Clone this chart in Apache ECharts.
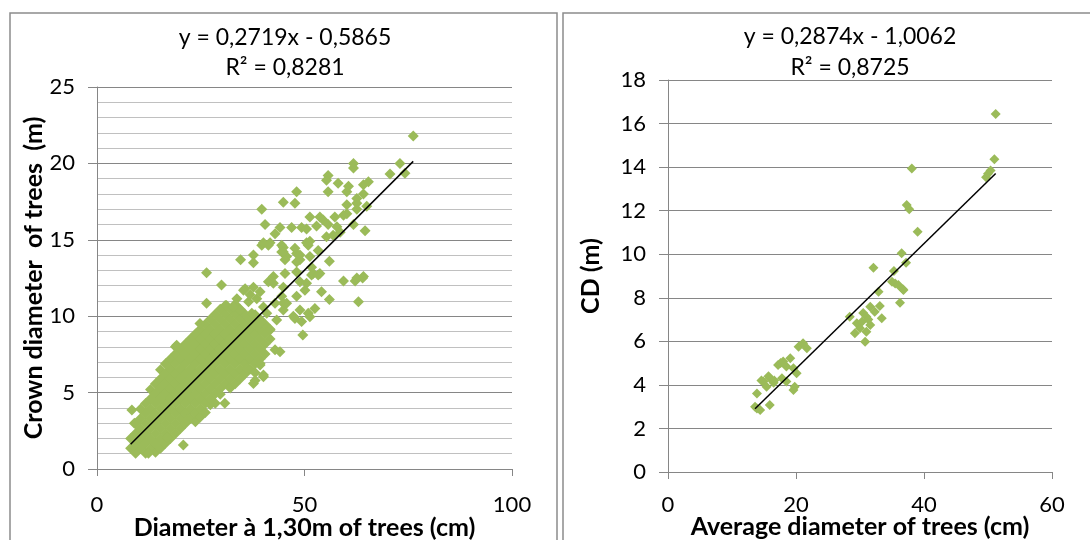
<!DOCTYPE html>
<html>
<head>
<meta charset="utf-8">
<title>Crown diameter vs stem diameter</title>
<script src="https://cdn.jsdelivr.net/npm/echarts@6/dist/echarts.min.js"></script>
<style>
  html, body { margin: 0; padding: 0; background: #ffffff; }
  #chart { width: 1090px; height: 540px; }
</style>
</head>
<body>
<div id="chart"></div>
<script>
// ---- Left panel: individual trees, DBH (cm) vs crown diameter (m) ----
// Dense core of the cloud, listed as [dbh, [crown diameters...]] columns
const dbhCoreColumns = [
  [8.1,  [1.35, 2.0]],
  [9.3,  [1.03, 1.68, 2.33, 2.98]],
  [10.5, [1.36, 2.01, 2.64, 3.3, 3.92]],
  [11.7, [1.03, 1.7, 2.33, 2.97, 3.63, 4.28]],
  [12.9, [1.35, 2.0, 2.66, 3.3, 3.95, 4.6, 5.2]],
  [14.1, [1.1, 1.68, 2.33, 2.98, 3.62, 4.28, 4.93, 5.58]],
  [15.3, [1.35, 2.0, 2.65, 3.3, 3.96, 4.6, 5.25, 5.9, 6.5]],
  [16.5, [1.68, 2.33, 2.98, 3.63, 4.28, 4.93, 5.58, 6.23, 6.88]],
  [17.7, [2.0, 2.65, 3.3, 3.95, 4.6, 5.25, 5.9, 6.55, 7.2]],
  [18.9, [2.33, 2.98, 3.63, 4.28, 4.93, 5.58, 6.23, 6.88, 7.53, 8.0]],
  [20.1, [2.65, 3.3, 3.95, 4.6, 5.25, 5.9, 6.55, 7.2, 7.85]],
  [21.3, [2.98, 3.63, 4.28, 4.93, 5.58, 6.23, 6.88, 7.53, 8.18]],
  [22.5, [3.3, 3.95, 4.6, 5.25, 5.9, 6.55, 7.2, 7.85, 8.5]],
  [23.7, [3.1, 3.63, 4.28, 4.93, 5.58, 6.23, 6.88, 7.53, 8.18, 8.83]],
  [24.9, [3.4, 3.95, 4.6, 5.25, 5.9, 6.55, 7.2, 7.85, 8.5, 9.15]],
  [26.1, [3.7, 4.28, 4.93, 5.58, 6.23, 6.88, 7.53, 8.18, 8.83, 9.48]],
  [27.3, [4.2, 4.6, 5.25, 5.9, 6.55, 7.2, 7.85, 8.5, 9.15, 9.8]],
  [28.5, [4.3, 4.93, 5.58, 6.23, 6.88, 7.53, 8.18, 8.83, 9.48, 10.13]],
  [29.7, [4.9, 5.25, 5.9, 6.55, 7.2, 7.85, 8.5, 9.15, 9.8, 10.45]],
  [30.9, [5.58, 6.23, 6.88, 7.53, 8.18, 8.83, 9.48, 10.13, 10.7]],
  [32.1, [5.3, 5.9, 6.55, 7.2, 7.85, 8.5, 9.15, 9.8, 10.45]],
  [33.3, [5.58, 6.23, 6.88, 7.53, 8.18, 8.83, 9.48, 10.13, 10.78]],
  [34.5, [5.9, 6.55, 7.2, 7.85, 8.5, 9.15, 9.8, 10.45]],
  [35.7, [6.23, 6.88, 7.53, 8.18, 8.83, 9.48, 10.13]],
  [36.9, [6.55, 7.2, 7.85, 8.5, 9.15, 9.8]],
  [38.1, [6.3, 6.88, 7.53, 8.18, 8.83, 9.48, 10.1]],
  [39.3, [7.2, 7.85, 8.5, 9.15, 9.8]],
  [40.5, [7.53, 8.18, 8.83, 9.48]],
  [41.7, [8.5, 9.15]]
];

// Scattered trees around and beyond the core
const dbhScattered = [
  [8.4, 3.86], [8.8, 1.46], [9.0, 3.0], [12.4, 1.03], [16.8, 2.1], [20.8, 1.57], [21.6, 3.2],
  [19.2, 8.1], [24.8, 9.53], [26.4, 10.85], [30.8, 4.3], [36.1, 6.6], [38.1, 5.8], [37.7, 5.6],
  [39.3, 6.8], [40.1, 6.04], [42.9, 7.8], [44.1, 7.68], [47.3, 10.0], [45.7, 10.85], [44.5, 11.3],
  [30.0, 12.05], [35.7, 11.8], [33.7, 11.15], [37.7, 11.9], [36.5, 10.95], [38.5, 11.15],
  [34.5, 10.4], [37.3, 10.2], [40.9, 10.2], [39.3, 9.55], [41.7, 9.1], [39.3, 6.9], [40.1, 6.15],
  [35.3, 11.7], [36.9, 11.4], [39.3, 11.6], [40.1, 10.6], [31.2, 10.7], [32.8, 10.6],
  [43.3, 9.75], [44.9, 10.4], [42.9, 10.85],
  [37.7, 14.0], [37.7, 13.5], [34.6, 13.7], [39.7, 14.65], [41.7, 14.8], [44.5, 14.65],
  [44.5, 14.2], [48.1, 14.1], [50.9, 14.65], [42.5, 12.15], [41.3, 12.25], [44.9, 11.9],
  [44.9, 10.85], [45.3, 12.8], [48.9, 12.25], [50.5, 12.15], [50.1, 11.7], [48.1, 11.3],
  [51.7, 12.7], [53.7, 12.8], [54.1, 11.6], [56.0, 11.1], [56.0, 13.6], [52.5, 10.5],
  [50.9, 10.2], [48.9, 10.4], [47.7, 9.85], [49.3, 9.65], [51.3, 9.97], [49.6, 8.77],
  [59.4, 12.3], [62.2, 12.3], [64.0, 12.5], [63.0, 10.95], [44.9, 14.5], [48.9, 13.7],
  [51.7, 13.2], [48.1, 12.9], [45.7, 13.9],
  [76.2, 21.8], [73.0, 20.0], [70.6, 19.3], [74.2, 19.35], [61.8, 20.0], [61.8, 19.7],
  [55.7, 19.2], [55.3, 18.9], [58.1, 18.7], [55.7, 18.15], [60.2, 18.15], [60.6, 18.5],
  [64.2, 18.6], [65.4, 18.8], [64.2, 18.0], [62.6, 17.7], [62.6, 17.4], [60.2, 17.3],
  [65.0, 17.2], [62.6, 17.0], [60.2, 16.7], [48.1, 18.15], [44.9, 17.45], [47.7, 17.4],
  [39.7, 17.0], [40.5, 16.0], [44.1, 15.8], [42.9, 15.4], [46.9, 15.8], [49.3, 15.8],
  [51.3, 16.5], [53.7, 16.5], [54.5, 16.3], [57.3, 16.5], [59.4, 16.6], [52.9, 15.9],
  [55.7, 16.0], [57.8, 15.85], [61.8, 16.0], [64.6, 15.6], [55.3, 15.2], [56.9, 15.3],
  [58.6, 15.5], [50.5, 15.7], [40.1, 14.8], [41.3, 14.65], [44.9, 14.2], [47.7, 14.45],
  [50.5, 14.8], [51.3, 14.9], [53.3, 14.3], [48.9, 14.0], [51.3, 13.9], [48.1, 13.55],
  [45.3, 13.7], [26.4, 12.85], [42.5, 12.6], [52.1, 12.8], [53.3, 12.7], [62.6, 12.5],
  [64.2, 12.6]
];

const leftSlope = 0.2719;
const leftIntercept = -0.5865;
const leftR2 = 0.8281;
const leftXTicks = [0, 100, 50];   // min, max, step
const leftYTicks = [0, 25, 5];

// ---- Right panel: plot means, average diameter (cm) vs CD (m) ----
const plotMeans = [
  [13.6, 3.0], [13.9, 2.92], [14.4, 2.85], [13.9, 3.61], [14.6, 4.2], [14.9, 4.15], [15.4, 3.92],
  [15.7, 4.4], [15.9, 4.3], [15.9, 3.08], [16.5, 4.1], [16.6, 4.2], [17.2, 4.91], [17.6, 5.0],
  [17.8, 4.3], [18.0, 5.07], [18.5, 4.84], [18.5, 4.15], [19.1, 5.22], [19.6, 4.76], [19.6, 3.77],
  [19.8, 3.92], [20.1, 4.53], [20.4, 5.75], [21.1, 5.91], [21.7, 5.68],
  [28.4, 7.13], [29.2, 6.37], [29.5, 6.83], [30.0, 6.6], [30.3, 6.9], [30.5, 7.3], [30.8, 5.98],
  [31.0, 7.13], [31.0, 6.44], [31.3, 7.0], [31.6, 6.75], [31.6, 7.59], [32.3, 7.36], [32.9, 8.28],
  [33.1, 7.62], [33.4, 7.06], [35.5, 8.66], [36.25, 7.77], [36.8, 8.36],
  [32.1, 9.38], [35.0, 8.74], [35.3, 9.23], [36.0, 8.59], [36.7, 8.39], [36.5, 10.04], [37.2, 9.61],
  [37.3, 12.26], [37.7, 12.06], [38.1, 13.94], [39.0, 11.03],
  [49.7, 13.53], [50.0, 13.7], [50.4, 13.85], [51.0, 14.36], [51.2, 16.44]
];

const rightSlope = 0.2874;
const rightIntercept = -1.0062;
const rightR2 = 0.8725;
const rightXTicks = [0, 60, 20];
const rightYTicks = [0, 18, 2];

// ---- helpers ----
const GREEN = '#9bbb59';
const AXIS_GREY = '#868686';
const FONT = 'Lato, "Open Sans", sans-serif';

const leftPoints = [];
dbhCoreColumns.forEach(([x, ys]) => ys.forEach(y => leftPoints.push([x, y])));
dbhScattered.forEach(p => leftPoints.push(p));

const fmt = v => v.toFixed(4).replace('.', ',');
function equationLines(slope, intercept, r2) {
  const sign = intercept < 0 ? '-' : '+';
  return [
    'y = ' + fmt(slope) + 'x ' + sign + ' ' + fmt(Math.abs(intercept)),
    'R\u00b2 = ' + fmt(r2)
  ];
}
function trendEnds(points, slope, intercept) {
  const xs = points.map(p => p[0]);
  const lo = Math.min(...xs), hi = Math.max(...xs);
  return [[lo, slope * lo + intercept], [hi, slope * hi + intercept]];
}

function valueAxis(gridIndex, ticks, isY, extra) {
  return Object.assign({
    type: 'value',
    gridIndex: gridIndex,
    min: ticks[0], max: ticks[1], interval: ticks[2],
    axisLine: { show: true, onZero: false, lineStyle: { color: AXIS_GREY, width: 1 } },
    axisTick: { show: true, inside: false, length: isY ? 9 : 7, lineStyle: { color: AXIS_GREY, width: 1 } },
    axisLabel: { color: '#000', fontFamily: FONT, fontSize: 22, margin: 22 },
    splitLine: { show: isY, lineStyle: { color: AXIS_GREY, width: 1 } },
    nameLocation: 'middle',
    nameMoveOverlap: false,
    nameTextStyle: { color: '#000', fontFamily: FONT, fontWeight: 'bold', fontSize: 25 }
  }, extra || {});
}

const leftEq = equationLines(leftSlope, leftIntercept, leftR2);
const rightEq = equationLines(rightSlope, rightIntercept, rightR2);

function eqText(x, y, text) {
  return {
    type: 'text', x: x, y: y, silent: true,
    style: { text: text, fill: '#000', font: '23px ' + FONT, align: 'center', verticalAlign: 'middle' }
  };
}

const chart = echarts.init(document.getElementById('chart'));
chart.setOption({
  animation: false,
  backgroundColor: '#ffffff',
  grid: [
    { left: 97, right: 578, top: 87, bottom: 71, outerBoundsMode: 'none', containLabel: false },
    { left: 668, right: 38, top: 80, bottom: 68, outerBoundsMode: 'none', containLabel: false }
  ],
  xAxis: [
    valueAxis(0, leftXTicks, false, {
      name: 'Diameter \u00e0 1,30m of trees (cm)', nameGap: 46,
      axisLabel: { color: '#000', fontFamily: FONT, fontSize: 22, margin: 25 }
    }),
    valueAxis(1, rightXTicks, false, {
      name: 'Average diameter of trees (cm)', nameGap: 42,
      axisLabel: { color: '#000', fontFamily: FONT, fontSize: 22, margin: 22 }
    })
  ],
  yAxis: [
    valueAxis(0, leftYTicks, true, {
      name: 'Crown diameter  of trees  (m)', nameGap: 51,
      minorTick: { show: false, splitNumber: 5 },
      minorSplitLine: { show: true, lineStyle: { color: '#c0c0c0', width: 1 } }
    }),
    valueAxis(1, rightYTicks, true, { name: 'CD (m)', nameGap: 65 })
  ],
  series: [
    {
      type: 'scatter', xAxisIndex: 0, yAxisIndex: 0,
      symbol: 'diamond', symbolSize: 11,
      itemStyle: { color: GREEN, opacity: 1 },
      data: leftPoints, silent: true, z: 2
    },
    {
      type: 'line', xAxisIndex: 0, yAxisIndex: 0,
      data: trendEnds(leftPoints, leftSlope, leftIntercept),
      showSymbol: false, lineStyle: { color: '#000', width: 1.5 }, silent: true, z: 3
    },
    {
      type: 'scatter', xAxisIndex: 1, yAxisIndex: 1,
      symbol: 'diamond', symbolSize: 10,
      itemStyle: { color: GREEN, opacity: 1 },
      data: plotMeans, silent: true, z: 2
    },
    {
      type: 'line', xAxisIndex: 1, yAxisIndex: 1,
      data: trendEnds(plotMeans, rightSlope, rightIntercept),
      showSymbol: false, lineStyle: { color: '#000', width: 1.5 }, silent: true, z: 3
    }
  ],
  graphic: [
    { type: 'rect', silent: true, shape: { x: 10, y: 13, width: 547, height: 540 },
      style: { fill: 'none', stroke: '#8c8c8c', lineWidth: 1.5 } },
    { type: 'rect', silent: true, shape: { x: 563, y: 13, width: 600, height: 540 },
      style: { fill: 'none', stroke: '#8c8c8c', lineWidth: 1.5 } },
    eqText(285, 38, leftEq[0]),
    eqText(285, 68, leftEq[1]),
    eqText(850, 37, rightEq[0]),
    eqText(850, 68, rightEq[1])
  ]
});
</script>
</body>
</html>
